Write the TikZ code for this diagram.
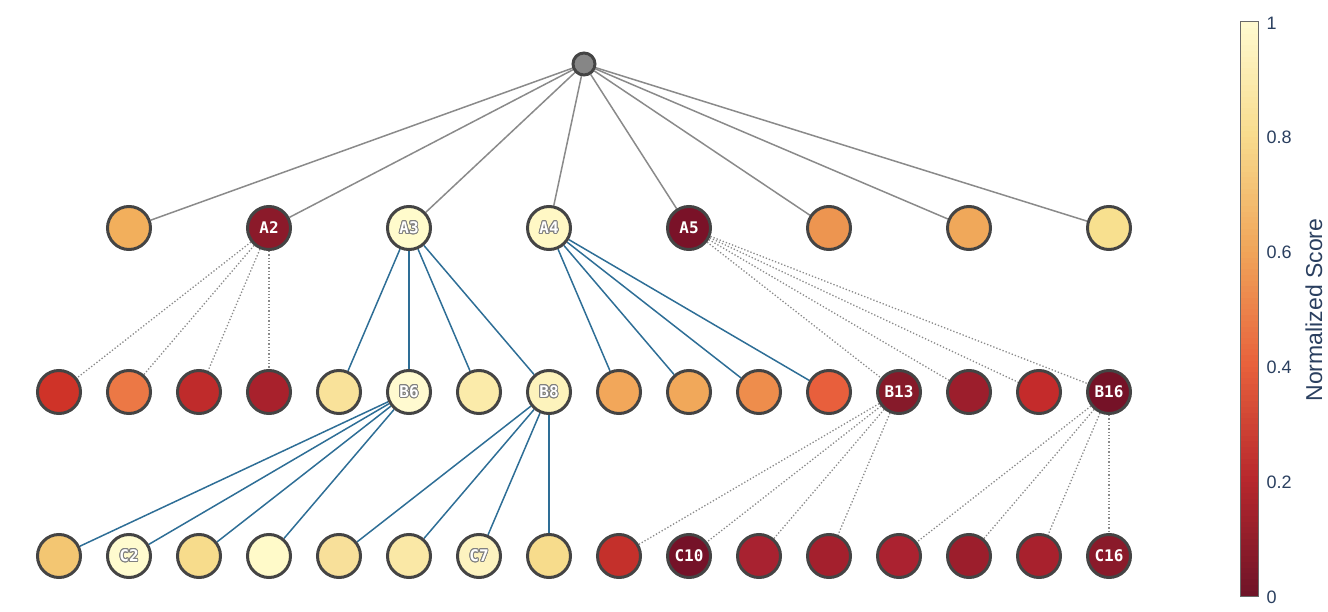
\documentclass[tikz,border=0pt]{standalone}
\usepackage{fontspec}
\setmainfont{Liberation Sans}
\newfontfamily\labfont{DejaVu Sans Mono}
\usepackage{xcolor}
\usepackage[copies]{contour}
\contourlength{0.9pt}
\usepackage{tikz}
\usetikzlibrary{backgrounds}
\definecolor{EdgeGray}{HTML}{8A8A8A}
\definecolor{EdgeBlue}{HTML}{2E6E96}
\definecolor{Rim}{HTML}{444444}
\definecolor{Ink}{HTML}{2A3F5F}
\definecolor{s0}{HTML}{701428}
\definecolor{s1}{HTML}{B8282D}
\definecolor{s2}{HTML}{E8623C}
\definecolor{s3}{HTML}{F0A65A}
\definecolor{s4}{HTML}{F8DC8E}
\definecolor{s5}{HTML}{FFFBD2}
\newcommand{\dk}[1]{\textcolor{white}{#1}}
\newcommand{\lt}[1]{\contour{gray}{\textcolor{white}{#1}}}

\begin{document}
\begin{tikzpicture}[
		x=1pt,y=-1pt,
		nd/.style={circle,draw=Rim,line width=3pt,minimum size=43pt,inner sep=0pt,font=\labfont\bfseries\fontsize{16}{16}\selectfont},
		tree/.style={EdgeGray,line width=1.5pt},
		pick/.style={EdgeBlue,line width=1.5pt},
		skip/.style={EdgeGray,line width=1.3pt,dotted},
		tick/.style={anchor=west,text=Ink,font=\fontsize{18}{18}\selectfont}
	]
	\useasboundingbox (0,0) rectangle (1328,612);
	% root
	\node[circle,draw=Rim,fill=gray!95,line width=3pt,minimum size=22pt,inner sep=0pt] (r) at (584,64) {};
	% level 1
	\foreach \c/\l [count=\i] in {F2AF5C/{},8B1A2A/\dk{A2},FFFBCC/\lt{A3},FFF8C5/\lt{A4},7A1228/\dk{A5},ED9550/{},F0A85A/{},F8E08F/{}}{
		\definecolor{tmp}{HTML}{\c}
		\node[nd,fill=tmp] (a\i) at ({129+140*(\i-1)},228) {\l};
	}
	% level 2
	\foreach \c/\l [count=\i] in {CF3328/{},EC7845/{},BF2B2B/{},A8212C/{},F9E29A/{},FFFAD0/\lt{B6},FBEBAA/{},FDF3BC/\lt{B8},F2A75A/{},F1A85A/{},EE8D4C/{},E85F3C/{},861A2A/\dk{B13},9C1E2C/{},C42B2B/{},751227/\dk{B16}}{
		\definecolor{tmp}{HTML}{\c}
		\node[nd,fill=tmp] (b\i) at ({59+70*(\i-1)},392) {\l};
	}
	% level 3
	\foreach \c/\l [count=\i] in {F3C672/{},FFFBCF/\lt{C2},F7DC8C/{},FFFAC9/{},F8E09A/{},FAE8A6/{},FDF3C0/\lt{C7},F7DC8C/{},C4302B/{},751228/\dk{C10},A82230/{},A4202D/{},AB2230/{},9C1E2C/{},A8212D/{},8A1A2A/\dk{C16}}{
		\definecolor{tmp}{HTML}{\c}
		\node[nd,fill=tmp] (c\i) at ({59+70*(\i-1)},556) {\l};
	}
	\begin{scope}[on background layer]
		\foreach \i in {1,...,8} \draw[tree] (r) -- (a\i);
		\foreach \i in {1,...,4} \draw[skip] (a2) -- (b\i);
		\foreach \i in {5,...,8} \draw[pick] (a3) -- (b\i);
		\foreach \i in {9,...,12} \draw[pick] (a4) -- (b\i);
		\foreach \i in {13,...,16} \draw[skip] (a5) -- (b\i);
		\foreach \i in {1,...,4} \draw[pick] (b6) -- (c\i);
		\foreach \i in {5,...,8} \draw[pick] (b8) -- (c\i);
		\foreach \i in {9,...,12} \draw[skip] (b13) -- (c\i);
		\foreach \i in {13,...,16} \draw[skip] (b16) -- (c\i);
	\end{scope}
	% colour bar
	\foreach \k [evaluate=\k as \n using int(\k+1)] in {0,...,4}{
		\foreach \j in {0,...,19}{
			\pgfmathsetmacro{\pct}{\j*5}
			\pgfmathsetmacro{\ylo}{596-5.74*(\k*20+\j)}
			\fill[color=s\n!\pct!s\k] (1240,\ylo+0.3) rectangle (1258,\ylo-6.04);
		}
	}
	\node[draw=Rim!80,line width=1pt,minimum width=18pt,minimum height=574pt,inner sep=0pt] (bar) at (1249,309) {};
	\foreach \v [count=\i from 0] in {0,0.2,0.4,0.6,0.8,1}
		\node[tick] (t\i) at (1263,{597-114.8*\i}) {\v};
	\node[text=Ink,rotate=90,font=\fontsize{23}{23}\selectfont] (title) at (1314,310) {Normalized Score};
\end{tikzpicture}
\end{document}
